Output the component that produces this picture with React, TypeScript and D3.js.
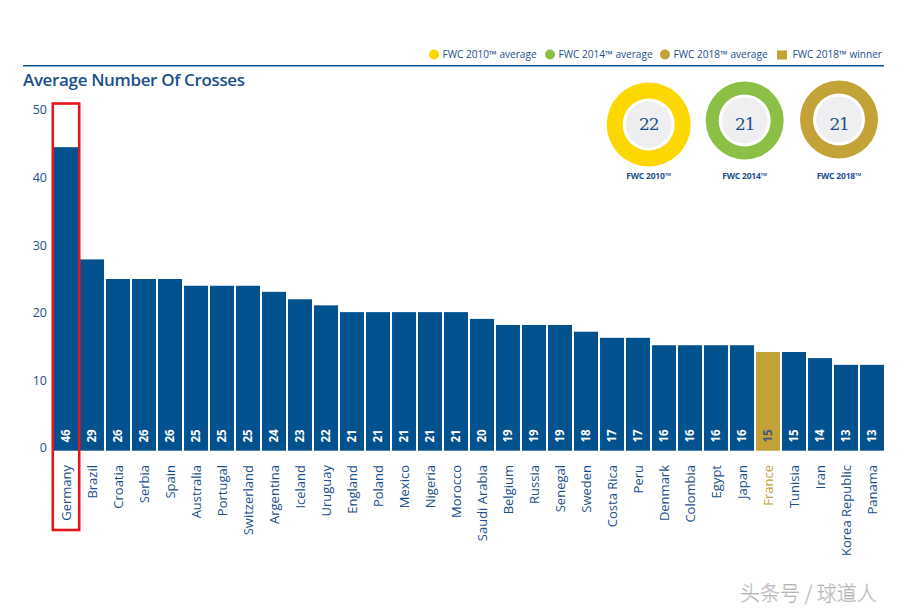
import React from "react";
import * as d3 from "d3";

const countries = ["Germany","Brazil","Croatia","Serbia","Spain","Australia","Portugal","Switzerland","Argentina","Iceland","Uruguay","England","Poland","Mexico","Nigeria","Morocco","Saudi Arabia","Belgium","Russia","Senegal","Sweden","Costa Rica","Peru","Denmark","Colombia","Egypt","Japan","France","Tunisia","Iran","Korea Republic","Panama"];
const barValues = [44.9,28.3,25.4,25.4,25.4,24.4,24.4,24.4,23.5,22.4,21.5,20.5,20.5,20.5,20.5,20.5,19.5,18.6,18.6,18.6,17.6,16.7,16.7,15.6,15.6,15.6,15.6,14.6,14.6,13.7,12.7,12.7];
const labelValues = [46,29,26,26,26,25,25,25,24,23,22,21,21,21,21,21,20,19,19,19,18,17,17,16,16,16,16,15,15,14,13,13];
const yTicks = [0,10,20,30,40,50];
const winner = "France";
const highlighted = "Germany";

const averageLabels = ["FWC 2010™","FWC 2014™","FWC 2018™"];
const averageValues = [22,21,21];
const legendLabels = ["FWC 2010™ average","FWC 2014™ average","FWC 2018™ average","FWC 2018™ winner"];

const BLUE = "#02528f";
const TEXT = "#1c4f8e";
const GOLD = "#c3a238";
const ringColors = ["#fdd800", "#8cbf45", "#c3a238"];

export default function App() {
  const x = d3.scaleBand<string>().domain(countries).range([54, 884]).paddingInner(2 / 26).paddingOuter(0);
  const y = d3.scaleLinear().domain([0, 50]).range([450.7, 112.7]);
  const rScale = d3.scaleLinear().domain([21, 22]).range([39, 42]);
  const ringCx = [648.7, 744.7, 839];
  const ringCy = [124.5, 120.5, 119.5];
  const legendX = [434, 550, 665, 777];
  const font = "'Open Sans', 'Noto Sans', sans-serif";
  const bw = x.bandwidth();

  return (
    <svg width={914} height={613} style={{ position: "absolute", left: 0, top: 0, background: "#fff" }} fontFamily={font}>
      {/* legend */}
      {legendLabels.map((l, i) => (
        <g key={l}>
          {i < 3 ? (
            <circle cx={legendX[i]} cy={54.5} r={5} fill={ringColors[i]} />
          ) : (
            <rect x={legendX[i]} y={50.5} width={10} height={9} fill={GOLD} />
          )}
          <text x={legendX[i] + (i < 3 ? 8.5 : 15.5)} y={58} fontSize={10.1} fill={TEXT}>{l}</text>
        </g>
      ))}
      <line x1={23} x2={884} y1={65.8} y2={65.8} stroke={BLUE} strokeWidth={1.4} />
      <text x={23} y={86} fontSize={17} fontWeight={600} fill={TEXT} letterSpacing={-0.35}>Average Number Of Crosses</text>

      {/* y ticks */}
      {yTicks.map(t => (
        <text key={t} x={47} y={y(t) - 2.7} dy="0.35em" textAnchor="end" fontSize={12.5} fontWeight={500} fill={TEXT}>{t}</text>
      ))}

      {/* bars */}
      {countries.map((c, i) => {
        const bx = x(c)!;
        const cx = bx + bw / 2;
        const isWinner = c === winner;
        return (
          <g key={c}>
            <rect x={bx} y={y(barValues[i])} width={bw} height={y(0) - y(barValues[i])} fill={isWinner ? GOLD : BLUE} />
            <text transform={`translate(${cx},${436}) rotate(-90)`} textAnchor="middle" dy="0.35em" fontSize={11.5} fontWeight={700} fill={isWinner ? "#3d5a86" : "#fff"}>{labelValues[i]}</text>
            <text transform={`translate(${cx},${465}) rotate(-90)`} textAnchor="end" dy="0.35em" fontSize={13} fill={isWinner ? GOLD : TEXT}>{c}</text>
          </g>
        );
      })}

      {/* highlight box */}
      {(() => {
        const bx = x(highlighted)!;
        return <rect x={bx - 1.2} y={103.5} width={bw + 2.4} height={426.5} fill="none" stroke="#e8141c" strokeWidth={2.6} />;
      })()}

      {/* averages donuts */}
      {averageValues.map((v, i) => {
        const r = rScale(v);
        return (
          <g key={averageLabels[i]}>
            <circle cx={ringCx[i]} cy={ringCy[i]} r={r} fill={ringColors[i]} />
            <circle cx={ringCx[i]} cy={ringCy[i]} r={26} fill="#fff" />
            <circle cx={ringCx[i]} cy={ringCy[i]} r={23} fill="#efeff1" />
            <text x={ringCx[i]} y={124.5} dy="0.35em" textAnchor="middle" fontSize={17} fill={TEXT} fontFamily="'DejaVu Serif', serif" letterSpacing={-1.2}>{v}</text>
            <text x={ringCx[i]} y={176.5} dy="0.35em" textAnchor="middle" fontSize={8.5} fontWeight={700} fill={TEXT} letterSpacing={-0.2}>{averageLabels[i]}</text>
          </g>
        );
      })}

      {/* watermark */}
      <text x={740} y={601} fontSize={20} fill="#d9d9d9" stroke="#9a9a9a" strokeWidth={0.3} fontFamily="'Noto Sans CJK SC', sans-serif" fontWeight={300}>头条号 / 球道人</text>
    </svg>
  );
}
